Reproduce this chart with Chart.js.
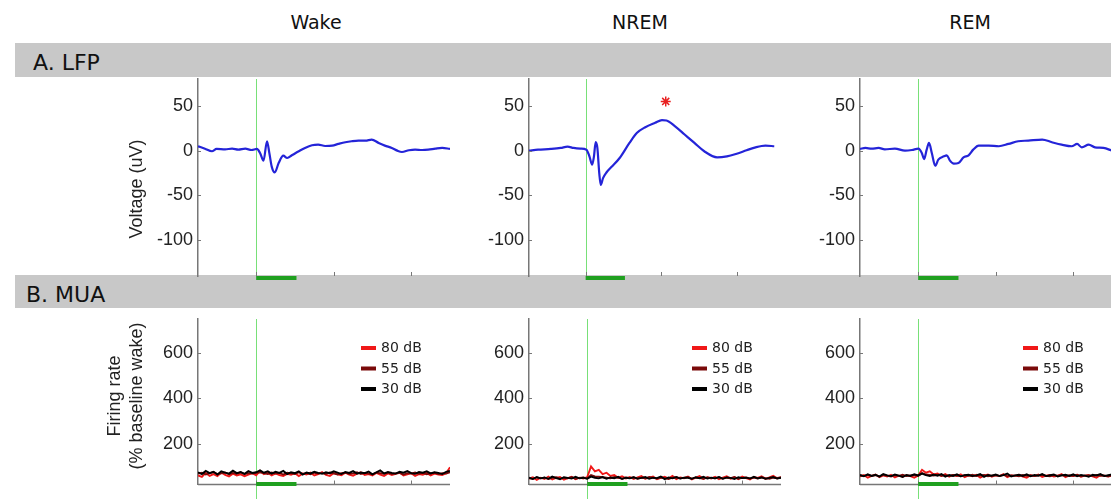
<!DOCTYPE html>
<html>
<head>
<meta charset="utf-8">
<script src="https://cdn.jsdelivr.net/npm/chart.js@4/dist/chart.umd.min.js"></script>
<style>
  body { margin: 0; width: 1111px; height: 499px; overflow: hidden; position: relative; background: #fff;
         font-family: "DejaVu Sans", Verdana, sans-serif; color: #111; }
  .head { position: absolute; top: 13px; font-size: 19px; line-height: 19px; transform: translateX(-50%); }
  .band { position: absolute; left: 15px; width: 1096px; background: #c8c8c8; }
  .band span { position: absolute; top: 9px; font-size: 22px; line-height: 22px; }
  canvas { position: absolute; }
</style>
</head>
<body>
<div class="head" style="left:316px">Wake</div>
<div class="head" style="left:640px">NREM</div>
<div class="head" style="left:970px">REM</div>
<div class="band" style="top:43px;height:34px"><span style="left:18px">A. LFP</span></div>
<div class="band" style="top:275px;height:33px"><span style="left:11px">B. MUA</span></div>

<canvas id="lfpWake" width="352" height="237" style="left:98px;top:59px"></canvas>
<canvas id="lfpNrem" width="352" height="237" style="left:429px;top:59px"></canvas>
<canvas id="lfpRem" width="352" height="237" style="left:760px;top:59px"></canvas>
<canvas id="muaWake" width="352" height="207" style="left:98px;top:299px"></canvas>
<canvas id="muaNrem" width="352" height="207" style="left:429px;top:299px"></canvas>
<canvas id="muaRem" width="352" height="207" style="left:760px;top:299px"></canvas>

<script>
// tiempo en ms respecto al estímulo
const timeMin = -75;
const timeMax = 250;
const stimOn = 0;
const stimOff = 52;
const xTicks = [0, 100, 200];

const lfpTicks = [-100, -50, 0, 50];
const muaTicks = [200, 400, 600];

// LFP (uV)
const wakeLfpT = [-75, -66, -57, -51, -40, -31, -23, -14, -6, 1, 5, 9.5, 14, 17, 20, 24, 29, 35, 40, 46,
  55, 63, 72, 80, 89, 98, 106, 115, 123, 132, 141, 149, 158, 166, 175, 182, 188, 197, 205, 214, 222, 231, 240, 250];
const wakeLfpV = [4.9, 2.2, -0.7, 1.9, 1.5, 2.2, 1.1, 2.2, 0.7, 1.9, -2.6, -11.2, 10.5, -2.6, -17.6, -24.4, -13.9, -5.6, -8.2, -5.2,
  -0.7, 3, 6, 6.7, 5.2, 5.6, 7.5, 9.4, 10.5, 11.2, 11.2, 12.4, 8.6, 5.6, 3, 0, -1.5, 0.4, 1.1, 0.7, 1.1, 2.2, 3, 1.9];

const nremLfpT = [-75, -63, -46, -33, -24, -16, -7, 1, 5, 8.6, 11, 13.3, 15.5, 18, 20, 23, 27.5, 34, 45, 58,
  68, 79, 92, 101, 107, 118, 131, 144, 157, 174, 187, 200, 213, 225, 238, 250];
const nremLfpV = [0, 1.1, 1.9, 3, 4.5, 3, 2.2, 1.1, -6.4, -15.7, -6.4, 9.4, 3, -25, -38.2, -30.7, -24.4, -18.4, -8.2, 8.6,
  19.9, 26.2, 31.1, 34.1, 33.7, 27.4, 18, 8.6, -0.7, -7.5, -6.4, -3.4, 0.4, 3.7, 5.6, 4.9];
const nremStar = [{ x: 106, y: 55 }];

const remLfpT = [-75, -68, -60, -51, -43, -30, -17, -8, 0.4, 4.7, 7.7, 11, 14, 17.6, 22, 26, 33, 37, 41, 46,
  52, 58.5, 65, 71, 78, 91, 104, 116.5, 129, 142, 160, 172.5, 185, 198, 205, 211, 220, 228, 239, 250];
const remLfpV = [1.9, 3, 2.2, 3, 1.5, 2.2, 0, 0.7, 2.2, -2.6, -9.4, 1.1, 8.6, -2.6, -16.9, -10.1, -6.4, -5.2, -11.2, -14.6,
  -13.9, -7.5, -5.2, 1.1, 5.6, 5.6, 4.9, 7.5, 10.5, 11.2, 12.4, 9.4, 6.7, 4.9, 7.5, 3.7, 6.7, 3.7, 3, 0];

// MUA (% baseline wake)
const muaT = [-75, -70, -65, -60, -55, -50, -45, -40, -35, -30, -25, -20, -15, -10, -5, 0,
  5, 10, 15, 20, 25, 30, 35, 40, 45, 50, 55, 60, 65, 70, 75, 80, 85, 90, 95, 100,
  105, 110, 115, 120, 125, 130, 135, 140, 145, 150, 155, 160, 165, 170, 175, 180, 185, 190, 195, 200,
  205, 210, 215, 220, 225, 230, 235, 240, 245, 250];
const muaLabels = ["80 dB", "55 dB", "30 dB"];
const muaColors = ["#f01818", "#7a0a0a", "#000000"];

const wake80 = [60, 54, 71, 58, 66, 57, 73, 62, 56, 68, 60, 65, 57, 64, 70, 61,
  80, 66, 72, 60, 69, 62, 58, 67, 63, 70, 57, 68, 64, 72, 60, 66, 75, 62, 58, 70,
  65, 61, 72, 64, 59, 68, 74, 62, 66, 60, 71, 64, 58, 69, 62, 67, 73, 60, 65, 70,
  58, 66, 63, 71, 60, 68, 64, 62, 70, 96];
const wake55 = [68, 72, 64, 70, 75, 66, 69, 73, 65, 71, 67, 74, 66, 70, 68, 72,
  74, 70, 66, 73, 68, 71, 64, 72, 69, 66, 74, 67, 70, 65, 72, 68, 71, 66, 73, 69,
  64, 70, 72, 67, 69, 74, 66, 71, 68, 65, 72, 70, 67, 73, 66, 69, 71, 64, 70, 68,
  73, 67, 71, 65, 69, 72, 66, 70, 68, 74];
const wake30 = [74, 66, 80, 70, 76, 64, 78, 72, 68, 81, 70, 75, 67, 79, 71, 74,
  82, 72, 78, 68, 76, 71, 80, 66, 74, 70, 78, 64, 73, 69, 76, 71, 67, 74, 70, 78,
  72, 66, 75, 71, 79, 68, 73, 70, 77, 65, 74, 82, 69, 75, 71, 68, 76, 72, 79, 70,
  67, 75, 72, 78, 69, 74, 71, 66, 76, 80];

const nrem80 = [46, 52, 40, 50, 44, 55, 42, 49, 53, 41, 48, 54, 43, 50, 46, 52,
  100, 78, 85, 66, 72, 58, 62, 50, 56, 47, 53, 44, 51, 57, 45, 50, 55, 43, 49, 54,
  46, 58, 44, 51, 48, 55, 42, 50, 57, 45, 52, 47, 54, 43, 50, 56, 46, 52, 44, 55,
  48, 42, 53, 49, 56, 45, 51, 58, 47, 52];
const nrem55 = [48, 45, 51, 47, 50, 44, 49, 52, 46, 50, 47, 53, 45, 49, 51, 47,
  62, 56, 54, 52, 50, 47, 53, 49, 46, 51, 48, 52, 45, 50, 47, 53, 49, 46, 51, 48,
  44, 50, 52, 47, 49, 53, 46, 50, 48, 45, 51, 49, 47, 52, 46, 50, 48, 53, 45, 49,
  51, 47, 50, 46, 52, 48, 45, 50, 49, 51];
const nrem30 = [50, 44, 53, 47, 51, 45, 55, 48, 43, 52, 49, 46, 54, 47, 50, 45,
  55, 50, 47, 53, 45, 51, 48, 54, 44, 50, 47, 52, 46, 49, 53, 45, 50, 48, 55, 44,
  51, 47, 53, 46, 50, 49, 45, 52, 48, 54, 46, 50, 47, 53, 45, 51, 49, 44, 52, 48,
  50, 46, 54, 47, 51, 45, 49, 53, 46, 50];

const rem80 = [56, 62, 50, 58, 64, 52, 60, 55, 63, 51, 59, 54, 61, 57, 50, 60,
  85, 72, 78, 64, 68, 58, 66, 55, 62, 57, 65, 52, 60, 56, 63, 50, 59, 64, 54, 61,
  57, 66, 52, 60, 58, 63, 55, 50, 61, 57, 64, 53, 59, 62, 55, 58, 66, 52, 60, 57,
  63, 54, 59, 61, 56, 50, 62, 58, 55, 60];
const rem55 = [60, 57, 63, 58, 61, 56, 62, 59, 55, 61, 58, 63, 57, 60, 62, 58,
  70, 64, 62, 60, 63, 58, 61, 57, 62, 59, 56, 61, 58, 63, 57, 60, 62, 56, 59, 61,
  58, 63, 57, 60, 59, 56, 62, 58, 61, 57, 60, 63, 58, 56, 61, 59, 62, 57, 60, 58,
  63, 56, 59, 61, 57, 62, 58, 60, 56, 59];
const rem30 = [62, 56, 65, 58, 63, 55, 66, 60, 57, 64, 59, 53, 62, 58, 65, 60,
  68, 61, 57, 64, 59, 66, 55, 62, 58, 65, 56, 61, 63, 57, 60, 66, 54, 62, 59, 64,
  57, 61, 68, 55, 60, 63, 58, 65, 56, 62, 59, 66, 57, 61, 64, 55, 60, 63, 58, 65,
  56, 62, 59, 54, 63, 60, 66, 57, 61, 64];

const tickFont = { family: "'Liberation Sans', Arial, sans-serif", size: 18 };

function pairs(t, v) {
  return t.map((x, i) => ({ x: x, y: v[i] }));
}

// estímulo, marcas hacia dentro, leyenda y título del eje
const decor = {
  id: "decor",
  beforeDatasetsDraw(chart, args, o) {
    const { ctx, chartArea: a, scales } = chart;
    const x0 = Math.round(scales.x.getPixelForValue(stimOn)) + 0.5;
    ctx.save();
    ctx.strokeStyle = "#78e078";
    ctx.lineWidth = 1;
    ctx.beginPath();
    ctx.moveTo(x0, a.top);
    ctx.lineTo(x0, o.toEdge ? chart.height : a.bottom);
    ctx.stroke();
    ctx.restore();
  },
  afterDatasetsDraw(chart, args, o) {
    const { ctx, chartArea: a, scales: { x, y } } = chart;
    ctx.save();
    ctx.strokeStyle = "#777";
    ctx.lineWidth = 1;
    ctx.beginPath();
    y.ticks.forEach((t) => {
      const py = Math.round(y.getPixelForValue(t.value)) + 0.5;
      ctx.moveTo(a.left, py);
      ctx.lineTo(a.left + 3, py);
    });
    xTicks.forEach((v) => {
      const px = Math.round(x.getPixelForValue(v)) + 0.5;
      ctx.moveTo(px, a.bottom);
      ctx.lineTo(px, a.bottom - 4);
    });
    ctx.stroke();
    if (o.bottomAxis) {
      ctx.lineWidth = 1.5;
      ctx.beginPath();
      ctx.moveTo(a.left, a.bottom);
      ctx.lineTo(a.right, a.bottom);
      ctx.stroke();
    }
    // barra verde del estímulo
    const x0 = x.getPixelForValue(stimOn);
    const x1 = x.getPixelForValue(stimOff);
    ctx.fillStyle = "#20a020";
    ctx.fillRect(x0, a.bottom + o.barShift, x1 - x0, 4);

    if (o.legend) {
      ctx.font = "14px 'DejaVu Sans', Verdana, sans-serif";
      ctx.textBaseline = "middle";
      chart.data.datasets.forEach((ds, i) => {
        const ry = a.top + 29 + i * 20.5;
        ctx.fillStyle = ds.borderColor;
        ctx.fillRect(a.left + 163, ry - 2, 15, 4);
        ctx.fillStyle = "#222";
        ctx.fillText(ds.label, a.left + 183, ry + 0.5);
      });
    }
    if (o.title) {
      ctx.translate(a.left + o.title.dx, a.top + o.title.dy);
      ctx.rotate(-Math.PI / 2);
      ctx.font = "18px 'Liberation Sans', Arial, sans-serif";
      ctx.fillStyle = "#222";
      ctx.textAlign = "center";
      ctx.textBaseline = "middle";
      o.title.lines.forEach((line, i) => ctx.fillText(line, 0, i * 21.6));
    }
    ctx.restore();
  },
};

function makeChart(id, datasets, yMin, yMax, yTicks, padBottom, decorOpts) {
  return new Chart(document.getElementById(id), {
    type: "line",
    data: { datasets: datasets },
    options: {
      responsive: false,
      animation: false,
      events: [],
      layout: { padding: { top: 20, bottom: padBottom, left: 0, right: 0 } },
      elements: { point: { radius: 0 }, line: { tension: 0 } },
      plugins: { legend: { display: false }, tooltip: { enabled: false }, decor: decorOpts },
      scales: {
        x: { type: "linear", min: timeMin, max: timeMax, display: false },
        y: {
          min: yMin,
          max: yMax,
          afterBuildTicks: (s) => { s.ticks = yTicks.map((value) => ({ value: value })); },
          afterFit: (s) => { s.width = 100; },
          grid: { display: false, drawTicks: false },
          border: { display: true, color: "#777", width: 1.5 },
          ticks: { padding: 5, color: "#222", font: tickFont },
        },
      },
    },
    plugins: [decor],
  });
}

function lfpLine(t, v) {
  return { data: pairs(t, v), borderColor: "#2424d8", borderWidth: 2.2, cubicInterpolationMode: "monotone" };
}

function muaSets(s80, s55, s30) {
  return [s80, s55, s30].map((s, i) => ({
    label: muaLabels[i],
    data: pairs(muaT, s),
    borderColor: muaColors[i],
    borderWidth: 1.9,
    order: 2 - i,
  }));
}

const lfpDecor = { toEdge: false, barShift: 0, bottomAxis: false };
const muaDecor = { toEdge: true, barShift: -2.5, bottomAxis: true, legend: true };

makeChart("lfpWake", [lfpLine(wakeLfpT, wakeLfpV)], -140, 80, lfpTicks, 20,
  Object.assign({}, lfpDecor, { title: { lines: ["Voltage (uV)"], dx: -61, dy: 110 } }));
makeChart("lfpNrem", [
  lfpLine(nremLfpT, nremLfpV),
  { data: nremStar, showLine: false, pointStyle: "star", pointRadius: 5, borderColor: "#e82020", borderWidth: 1.5 },
], -140, 80, lfpTicks, 20, lfpDecor);
makeChart("lfpRem", [lfpLine(remLfpT, remLfpV)], -140, 80, lfpTicks, 20, lfpDecor);

makeChart("muaWake", muaSets(wake80, wake55, wake30), 20, 750, muaTicks, 21.5,
  Object.assign({}, muaDecor, { title: { lines: ["Firing rate", "(% baseline wake)"], dx: -83, dy: 77 } }));
makeChart("muaNrem", muaSets(nrem80, nrem55, nrem30), 20, 750, muaTicks, 21.5, muaDecor);
makeChart("muaRem", muaSets(rem80, rem55, rem30), 20, 750, muaTicks, 21.5, muaDecor);
</script>
</body>
</html>
